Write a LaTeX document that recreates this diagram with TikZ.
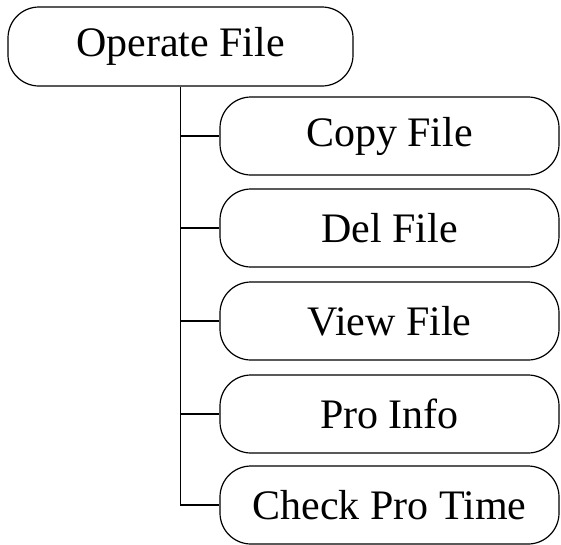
\documentclass[tikz,border=0pt]{standalone}
\usepackage{fontspec}
\setmainfont{Liberation Serif}
\tikzset{
  caja/.style={draw, rounded corners=31pt, line width=1.2pt, minimum width=339pt,
    minimum height=78pt, inner sep=0pt, font=\fontsize{42}{45}\selectfont},
  rama/.style={line width=1.2pt},
}
\begin{document}
\begin{tikzpicture}[x=1pt,y=1pt]
        \useasboundingbox (0,0) rectangle (561,-544);

        % Raiz
        \node[caja, minimum width=345pt, minimum height=79pt] (operate) at (180.5,-46.5) {Operate File};

        % Hijos
        \node[caja] (copy) at (389.5,-136) {Copy File};
        \node[caja] (del) at (389.5,-228) {Del File};
        \node[caja] (view) at (389.5,-321) {View File};
        \node[caja] (pro) at (389.5,-414) {Pro Info};
        \node[caja] (check) at (389.5,-505) {Check Pro Time};

        % Lineas
        \draw[rama] (operate.south) |- (check.west);
        \foreach \n in {copy,del,view,pro}
            \draw[rama] (operate.south |- \n.west) -- (\n.west);
    \end{tikzpicture}
\end{document}
